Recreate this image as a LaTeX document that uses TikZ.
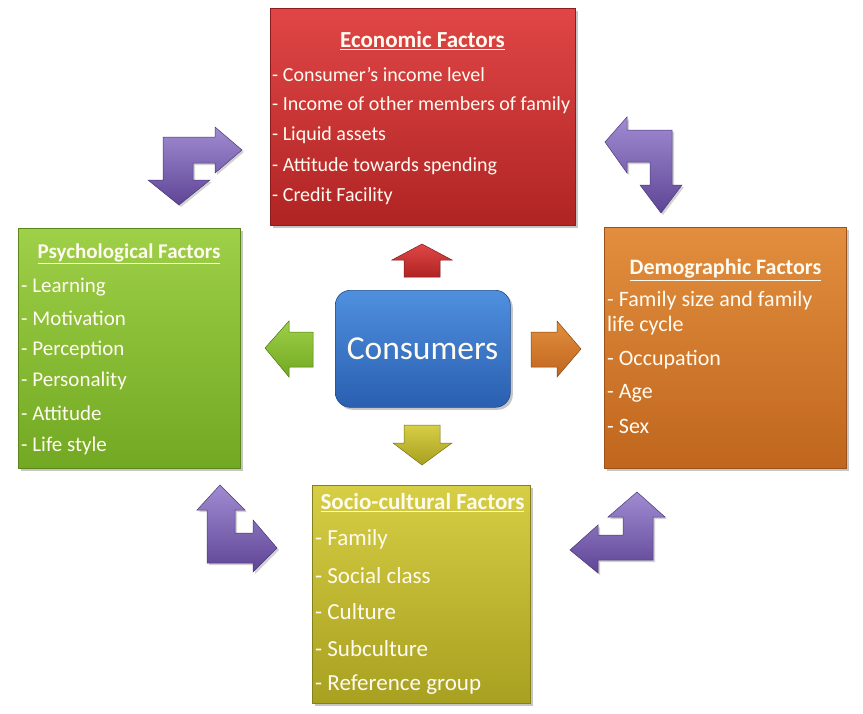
\documentclass[tikz,border=0pt]{standalone}
\usepackage{fontspec}
\setmainfont{Carlito}
\usetikzlibrary{shadows}
\definecolor{redT}{HTML}{E04646}
\definecolor{redB}{HTML}{B02424}
\definecolor{grnT}{HTML}{9ED048}
\definecolor{grnB}{HTML}{72A822}
\definecolor{orgT}{HTML}{E28E3E}
\definecolor{orgB}{HTML}{C0661E}
\definecolor{ylwT}{HTML}{D6CE44}
\definecolor{ylwB}{HTML}{A8A020}
\definecolor{bluT}{HTML}{4F90DE}
\definecolor{bluB}{HTML}{2A5FB0}
\definecolor{purT}{HTML}{A08CD2}
\definecolor{purB}{HTML}{5F4596}
\definecolor{txt}{HTML}{FFFBF0}
\tikzset{
  factorbox/.style={rectangle, anchor=north west, inner sep=0pt, draw=#1B!80!black, line width=0.6pt,
    top color=#1T, bottom color=#1B,
    drop shadow={opacity=0.45, shadow xshift=2.5pt, shadow yshift=-2.5pt}},
  ttl/.style={text=txt, font=\bfseries\fontsize{#1}{#1}\selectfont, inner sep=0pt, anchor=center},
  itm/.style={text=txt, font=\fontsize{#1}{#1}\selectfont, inner sep=0pt, anchor=west},
  purarrow/.style={top color=purT, bottom color=purB, draw=purB!80!black, line width=0.5pt,
    drop shadow={opacity=0.35, shadow xshift=2pt, shadow yshift=-2pt}},
  smallarrow/.style={top color=#1T, bottom color=#1B, draw=#1B!70!black, line width=0.5pt},
}
\begin{document}
\begin{tikzpicture}[x=1pt,y=-1pt]
\useasboundingbox[fill=white] (0,0) rectangle (863,713);

% Economic
\node[factorbox=red, minimum width=305pt, minimum height=217pt] (eco) at (270,8) {};
\node[ttl=23] (ecoT) at (422.5,41) {\underline{Economic Factors}};
\node[itm=20] (eco1) at (272,75) {- Consumer{\char"27}s income level};
\node[itm=20] (eco2) at (272,105) {- Income of other members of family};
\node[itm=20] (eco3) at (272,135) {- Liquid assets};
\node[itm=20] (eco4) at (272,166) {- Attitude towards spending};
\node[itm=20] (eco5) at (272,196) {- Credit Facility};

% Psychological
\node[factorbox=grn, minimum width=222pt, minimum height=240pt] (psy) at (18,228) {};
\node[ttl=21] (psyT) at (129,254) {\underline{Psychological Factors}};
\node[itm=21] (psy1) at (21,287) {- Learning};
\node[itm=21] (psy2) at (21,318) {- Motivation};
\node[itm=21] (psy3) at (21,350) {- Perception};
\node[itm=21] (psy4) at (21,381) {- Personality};
\node[itm=21] (psy5) at (21,413) {- Attitude};
\node[itm=21] (psy6) at (21,446) {- Life style};

% Demographic
\node[factorbox=org, minimum width=242pt, minimum height=241pt] (dem) at (604,227) {};
\node[ttl=22] (demT) at (725.5,270) {\underline{Demographic Factors}};
\node[itm=22] (dem1) at (607,301) {- Family size and family};
\node[itm=22] (dem1b) at (607,326) {life cycle};
\node[itm=22] (dem2) at (607,360) {- Occupation};
\node[itm=22] (dem3) at (607,393) {- Age};
\node[itm=22] (dem4) at (607,426) {- Sex};

% Socio-cultural
\node[factorbox=ylw, minimum width=218pt, minimum height=218pt] (soc) at (312,485) {};
\node[ttl=23] (socT) at (422.5,503) {\underline{Socio-cultural Factors}};
\node[itm=23] (soc1) at (315,539) {- Family};
\node[itm=23] (soc2) at (315,576) {- Social class};
\node[itm=23] (soc3) at (315,612) {- Culture};
\node[itm=23] (soc4) at (315,649) {- Subculture};
\node[itm=23] (soc5) at (315,685) {- Reference group};

% Consumers
\node[rectangle, rounded corners=15pt, anchor=north west, minimum width=175pt, minimum height=117pt,
  top color=bluT, bottom color=bluB, draw=bluB!80!black, line width=0.6pt,
  drop shadow={opacity=0.45, shadow xshift=2.5pt, shadow yshift=-2.5pt}] (con) at (335,290) {};
\node[text=txt, font=\fontsize{33.5}{33.5}\selectfont, inner sep=0pt] (conT) at (422.5,349) {Consumers};

% small arrows
\path[smallarrow=red] (422,244) -- (452,260) -- (440,260) -- (440,277) -- (404,277) -- (404,260) -- (392,260) -- cycle;
\path[smallarrow=ylw] (422,465) -- (452,443) -- (440,443) -- (440,425) -- (404,425) -- (404,443) -- (393,443) -- cycle;
\path[smallarrow=grn] (265,348) -- (289,321) -- (289,332) -- (313,332) -- (313,367) -- (289,367) -- (289,377) -- cycle;
\path[smallarrow=org] (581,349) -- (557,321) -- (557,332) -- (531,332) -- (531,367) -- (557,367) -- (557,377) -- cycle;

% purple bent arrows
\path[purarrow] (163,137) -- (215,137) -- (215,127) -- (242,150) -- (215,173) -- (215,163) -- (193,163)
  -- (193,180) -- (210,180) -- (179,205) -- (148,180) -- (163,180) -- cycle;
\path[purarrow] (605,142) -- (627,117) -- (627,130) -- (672,130) -- (672,185) -- (682,185) -- (661,213)
  -- (640,185) -- (650,185) -- (650,162) -- (627,162) -- (627,173) -- cycle;
\path[purarrow] (220,485) -- (245,510) -- (235,510) -- (235,533) -- (253,533) -- (253,520) -- (277,548)
  -- (253,572) -- (253,563) -- (207,563) -- (207,510) -- (197,510) -- cycle;
\path[purarrow] (637,492) -- (665,517) -- (653,517) -- (653,560) -- (598,560) -- (598,573) -- (570,550)
  -- (598,525) -- (598,535) -- (623,535) -- (623,517) -- (608,517) -- cycle;
\end{tikzpicture}
\end{document}
